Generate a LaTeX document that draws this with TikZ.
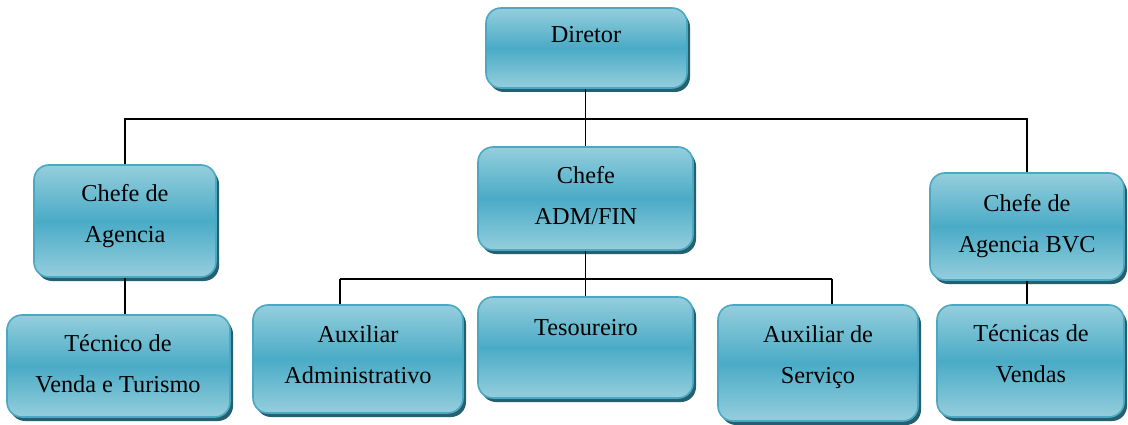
\documentclass[tikz,border=0pt]{standalone}
\usepackage{fontspec}
\setmainfont{Liberation Serif}
\usetikzlibrary{shadows}
\definecolor{boxlight}{HTML}{95CEDD}
\definecolor{boxmid}{HTML}{4AABC6}
\definecolor{boxedge}{HTML}{4AA8C2}
\definecolor{boxshadow}{HTML}{24606F}
\tikzset{
  x=1pt, y=-1pt,
  orgbox/.style={rectangle, rounded corners=15pt, draw=boxedge, line width=1.6pt,
    top color=boxlight, bottom color=boxlight, middle color=boxmid,
    drop shadow={shadow xshift=3pt, shadow yshift=-4pt, fill=boxshadow, opacity=1},
    inner sep=0pt},
  orgtext/.style={font=\fontsize{24.3}{41}\selectfont, align=center, anchor=base, inner sep=0pt},
  conn/.style={line width=1.8pt, black}
}
\newcommand{\orgbox}[5]{%
  \node[orgbox, minimum width={#4-#2}, minimum height={#5-#3}] (#1) at ({(#2+#4)/2},{(#3+#5)/2}) {};}
\begin{document}
\begin{tikzpicture}
\useasboundingbox (0,0) rectangle (1128,425);
% boxes: name, left, top, right, bottom
\orgbox{dir}{486}{8}{687}{88}
\orgbox{ag}{34}{165}{216}{277}
\orgbox{adm}{478}{147}{693}{250}
\orgbox{bvc}{930}{173}{1124}{280}
\orgbox{tec}{7}{315}{230}{417}
\orgbox{aux}{253}{305}{463}{413}
\orgbox{tes}{478}{297}{693}{398}
\orgbox{serv}{718}{305}{918}{421}
\orgbox{tv}{937}{305}{1124}{417}
% texts (anchored at the baseline of the last line)
\node[orgtext] (t-dir) at (586,43) {Diretor};
\node[orgtext] (t-ag) at (125,243) {Chefe de\\Agencia};
\node[orgtext] (t-adm) at (586,225) {Chefe\\ADM/FIN};
\node[orgtext] (t-bvc) at (1027,252) {Chefe de\\Agencia BVC};
\node[orgtext] (t-tec) at (118,392) {Técnico de\\Venda e Turismo};
\node[orgtext] (t-aux) at (358,383) {Auxiliar\\Administrativo};
\node[orgtext] (t-tes) at (586,335) {Tesoureiro};
\node[orgtext] (t-serv) at (818,383) {Auxiliar de\\Serviço};
\node[orgtext] (t-tv) at (1031,382) {Técnicas de\\Vendas};
% connectors
\coordinate (bus1) at (586,119);
\coordinate (bus2l) at (340,279);
\coordinate (bus2r) at (832,279);
\draw[conn] (adm.north) -- (adm.north |- dir.south);
\draw[conn] (ag.north) |- (bus1) -| (bvc.north);
\draw[conn] (adm.south) -- (tes.north);
\draw[conn] (bus2l) -- (bus2r);
\draw[conn] (bus2l) -- (bus2l |- aux.north);
\draw[conn] (bus2r) -- (bus2r |- serv.north);
\draw[conn] (ag.south) -- (ag.south |- tec.north);
\draw[conn] (bvc.south) -- (bvc.south |- tv.north);
\end{tikzpicture}
\end{document}
